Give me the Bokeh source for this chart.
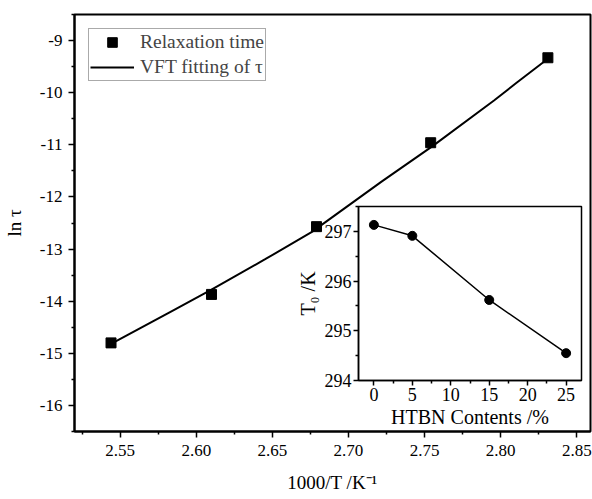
from bokeh.plotting import figure
from bokeh.models import FixedTicker, GridBox, Range1d, Legend, LegendItem
from bokeh.embed import file_html
from bokeh.resources import INLINE

# ---- main data ----
inv_T = [2.544, 2.610, 2.679, 2.754, 2.831]
ln_tau = [-14.80, -13.87, -12.57, -10.96, -9.33]
fit_x = [2.544, 2.584, 2.610, 2.645, 2.676, 2.7215, 2.755, 2.7956, 2.810, 2.831]
fit_y = [-14.82, -14.19, -13.78, -13.20, -12.67, -11.71, -11.03, -10.15, -9.82, -9.35]
x_ticks = [2.55, 2.60, 2.65, 2.70, 2.75, 2.80, 2.85]
x_tick_labels = ["2.55", "2.60", "2.65", "2.70", "2.75", "2.80", "2.85"]
x_minor = [2.525, 2.575, 2.625, 2.675, 2.725, 2.775, 2.825]
y_ticks = [-16, -15, -14, -13, -12, -11, -10, -9]
y_tick_labels = ["-16", "-15", "-14", "-13", "-12", "-11", "-10", "-9"]
y_minor = [-16.5, -15.5, -14.5, -13.5, -12.5, -11.5, -10.5, -9.5, -8.5]

# ---- inset data ----
htbn = [0, 5, 15, 25]
t0 = [297.13, 296.91, 295.62, 294.55]
ix_ticks = [0, 5, 10, 15, 20, 25]
ix_tick_labels = ["0", "5", "10", "15", "20", "25"]
ix_minor = [-2.5, 2.5, 7.5, 12.5, 17.5, 22.5, 27.5]
iy_ticks = [294, 295, 296, 297]
iy_tick_labels = ["294", "295", "296", "297"]
iy_minor = [294.5, 295.5, 296.5, 297.5]

FONT = "Liberation Serif"


def style_axes(fig, tick_size, title_size, lw):
    fig.xgrid.visible = False
    fig.ygrid.visible = False
    fig.outline_line_color = "black"
    fig.outline_line_width = lw
    fig.outline_line_alpha = 1
    for ax in (fig.xaxis[0], fig.yaxis[0]):
        ax.axis_line_width = lw
        ax.axis_line_color = "black"
        ax.major_tick_in = 0
        ax.major_tick_out = 6
        ax.minor_tick_in = 0
        ax.minor_tick_out = 3
        ax.major_tick_line_width = 1.5
        ax.minor_tick_line_width = 1.5
        ax.major_tick_line_color = "black"
        ax.minor_tick_line_color = "black"
        ax.major_label_text_font = FONT
        ax.major_label_text_font_size = tick_size
        ax.major_label_text_font_style = "normal"
        ax.major_label_text_color = "black"
        ax.axis_label_text_font = FONT
        ax.axis_label_text_font_size = title_size
        ax.axis_label_text_font_style = "normal"
        ax.axis_label_text_color = "black"


p = figure(width=592, height=499, x_range=Range1d(2.52, 2.859), y_range=Range1d(-16.5, -8.5),
           output_backend="svg", toolbar_location=None,
           min_border_left=72, min_border_right=2, min_border_top=14, min_border_bottom=68)
style_axes(p, "17px", "19px", 2)
p.xaxis.ticker = FixedTicker(ticks=x_ticks, minor_ticks=x_minor)
p.yaxis.ticker = FixedTicker(ticks=y_ticks, minor_ticks=y_minor)
p.xaxis.major_label_overrides = dict(zip(x_ticks, x_tick_labels))
p.yaxis.major_label_overrides = dict(zip(y_ticks, y_tick_labels))
p.xaxis.axis_label = "1000/T /K\u207b\u00b9"
p.yaxis.axis_label = "ln \u03c4"
p.xaxis.major_label_standoff = 7
p.yaxis.major_label_standoff = 6
p.xaxis.axis_label_standoff = 13
p.yaxis.axis_label_standoff = 12

ln = p.line(fit_x, fit_y, line_color="black", line_width=2)
sq = p.scatter(inv_T, ln_tau, marker="square", size=10, fill_color="black", line_color="black")

legend = Legend(items=[LegendItem(label="Relaxation time", renderers=[sq]),
                       LegendItem(label="VFT fitting of \u03c4", renderers=[ln])],
                location="top_left")
legend.margin = 14
legend.padding = 1
legend.spacing = 1
legend.glyph_width = 44
legend.glyph_height = 24
legend.label_height = 24
legend.label_standoff = 6
legend.label_text_font = FONT
legend.label_text_font_size = "19.5px"
legend.border_line_color = "#555555"
legend.border_line_width = 1
legend.background_fill_alpha = 1
p.add_layout(legend, "center")

inset = figure(width=296, height=236, x_range=Range1d(-2, 27), y_range=Range1d(294, 297.5),
               output_backend="svg", toolbar_location=None,
               min_border_left=68, min_border_right=5, min_border_top=6, min_border_bottom=56)
inset.border_fill_alpha = 0
inset.background_fill_color = "white"
style_axes(inset, "18px", "20px", 1.5)
inset.xaxis.ticker = FixedTicker(ticks=ix_ticks, minor_ticks=ix_minor)
inset.yaxis.ticker = FixedTicker(ticks=iy_ticks, minor_ticks=iy_minor)
inset.xaxis.major_label_overrides = dict(zip(ix_ticks, ix_tick_labels))
inset.yaxis.major_label_overrides = dict(zip(iy_ticks, iy_tick_labels))
inset.xaxis.major_tick_out = 5
inset.yaxis.major_tick_out = 5
inset.xaxis.major_label_standoff = 2
inset.yaxis.major_label_standoff = 2
inset.xaxis.axis_label_standoff = 2
inset.yaxis.axis_label_standoff = 3
inset.xaxis.axis_label = "HTBN Contents /%"
inset.yaxis.axis_label = "T\u2080 /K"
inset.line(htbn, t0, line_color="black", line_width=1.5)
inset.scatter(htbn, t0, marker="circle", size=9, fill_color="black", line_color="black")

grid = GridBox(children=[(p, 0, 0, 3, 3), (inset, 1, 1, 1, 1)],
               rows=["200px", "236px", "63px"], cols=["290px", "296px", "6px"])

open("out.html", "w").write(file_html(grid, INLINE))
